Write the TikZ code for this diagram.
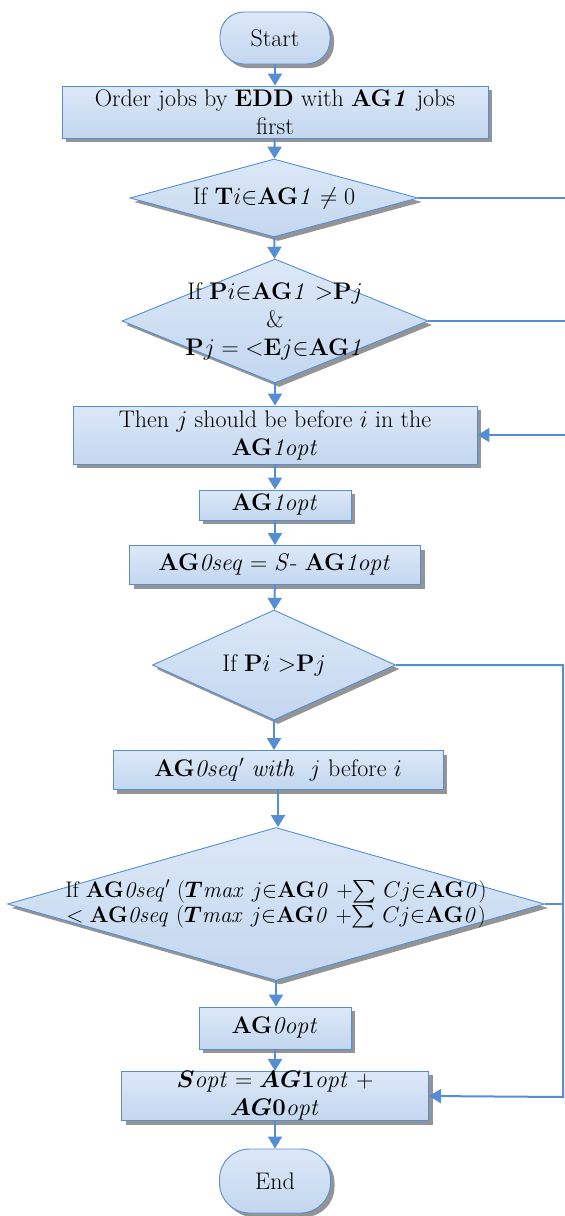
\RequirePackage{fix-cm}
\documentclass[tikz,border=0pt]{standalone}
\usepackage{amsmath,amssymb}
\usepackage{tikz}
\usetikzlibrary{arrows.meta, shapes, shadows}
\definecolor{flowblue}{RGB}{85,142,213}
\definecolor{boxtop}{RGB}{220,232,247}
\definecolor{boxbot}{RGB}{195,215,239}
\tikzset{>={Triangle[width=14pt,length=12pt]}}
\tikzset{
  flowbox/.style={draw=flowblue, line width=0.9pt, top color=boxtop, bottom color=boxbot,
    drop shadow={shadow xshift=4pt, shadow yshift=-4pt, fill=black!42, opacity=1},
    inner sep=0pt, align=center},
  decide/.style={flowbox, diamond},
  termnode/.style={flowbox, rounded corners=24pt},
  flowline/.style={draw=flowblue, line width=2pt}
}

\begin{document}
\begin{tikzpicture}[x=1pt, y=-1pt, font=\fontsize{24}{28}\selectfont]
\useasboundingbox (0,0) rectangle (565,1216);
% terminals and boxes
\node[termnode, minimum width=110pt, minimum height=52pt] (start) at (275,38) {Start};
\node[flowbox, minimum width=426pt, minimum height=52pt] (order) at (275,112)
  {Order jobs by \textbf{EDD} with $\mathbf{AG}\boldsymbol{\mathit{1}}$ jobs\\first};
\node[decide, minimum width=288pt, minimum height=78pt,
  label={center:If $\mathbf{T}i{\in}\mathbf{AG}\mathit{1}\neq 0$}] (d1) at (274,198) {};
\node[decide, minimum width=306pt, minimum height=124pt,
  label={[align=center]center:If $\mathbf{P}i{\in}\mathbf{AG}\mathit{1}\ {>}\mathbf{P}j$\\\&\\$\mathbf{P}j={<}\mathbf{E}j{\in}\mathbf{AG}\mathit{1}$}] (d2) at (275,321) {};
\node[flowbox, minimum width=404pt, minimum height=58pt] (then) at (275,435)
  {Then $j$ should be before $i$ in the\\$\mathbf{AG}\mathit{1opt}$};
\node[flowbox, minimum width=152pt, minimum height=30pt] (ag1) at (275,505) {$\mathbf{AG}\mathit{1opt}$};
\node[flowbox, minimum width=291pt, minimum height=39pt] (ag0seq) at (275,565)
  {$\mathbf{AG}\mathit{0seq}=\mathit{S}$- $\mathbf{AG}\mathit{1opt}$};
\node[decide, minimum width=243pt, minimum height=110pt,
  label={center:If $\mathbf{P}i\ {>}\mathbf{P}j$}] (d3) at (274,665) {};
\node[flowbox, minimum width=330pt, minimum height=39pt] (seqp) at (278,770)
  {$\mathbf{AG}\mathit{0seq'\ with\ \ j}$ before $i$};
\node[decide, minimum width=537pt, minimum height=153pt,
  label={[align=center, font=\fontsize{22.5}{25}\selectfont]center:If $\mathbf{AG}\mathit{0seq'}\ (\boldsymbol{T}\mathit{max}\ j{\in}\mathbf{AG}\mathit{0}\ {+}{\sum}\ Cj{\in}\mathbf{AG}\mathit{0})$\\$<\mathbf{AG}\mathit{0seq}\ (\boldsymbol{T}\mathit{max}\ j{\in}\mathbf{AG}\mathit{0}\ {+}{\sum}\ Cj{\in}\mathbf{AG}\mathit{0})$}] (d4) at (276,904) {};
\node[flowbox, minimum width=152pt, minimum height=42pt] (ag0opt) at (275,1028) {$\mathbf{AG}\mathit{0opt}$};
\node[flowbox, minimum width=307pt, minimum height=42pt] (sopt) at (275,1096)
  {$\boldsymbol{S}\mathit{opt}=\boldsymbol{AG1}\mathit{opt}\ +$\\$\boldsymbol{AG}\mathbf{0}\mathit{opt}$};
\node[termnode, minimum width=111pt, minimum height=64pt, rounded corners=30pt] (end) at (275,1181) {End};
% side ends
\coordinate (r1) at (565,198);
\coordinate (r2) at (565,321);
\coordinate (r3) at (565,435);
\coordinate (rt) at (563,1097);
% main flow
\draw[flowline, ->] (start) -- (order);
\draw[flowline, ->] (order) -- (d1);
\draw[flowline, ->] (d1) -- (d2);
\draw[flowline, ->] (d2) -- (then);
\draw[flowline, ->] (then) -- (ag1);
\draw[flowline, ->] (ag1) -- (ag0seq);
\draw[flowline, ->] (ag0seq) -- (d3);
\draw[flowline, ->] (d3.south) -- (d3.south |- seqp.north);
\draw[flowline, ->] (seqp.south) -- (seqp.south |- d4.north);
\draw[flowline, ->] (d4.south) -- (d4.south |- ag0opt.north);
\draw[flowline, ->] (ag0opt) -- (sopt);
\draw[flowline, ->] (sopt) -- (end);
% right side
\draw[flowline] (d1.east) -- (r1);
\draw[flowline] (d2.east) -- (r2);
\draw[flowline, ->] (r3) -- (then.east);
\draw[flowline, ->] (d3.east) -| (rt) -- (sopt.east);
\draw[flowline] (d4.east) -- (d4.east -| rt);
\end{tikzpicture}
\end{document}
